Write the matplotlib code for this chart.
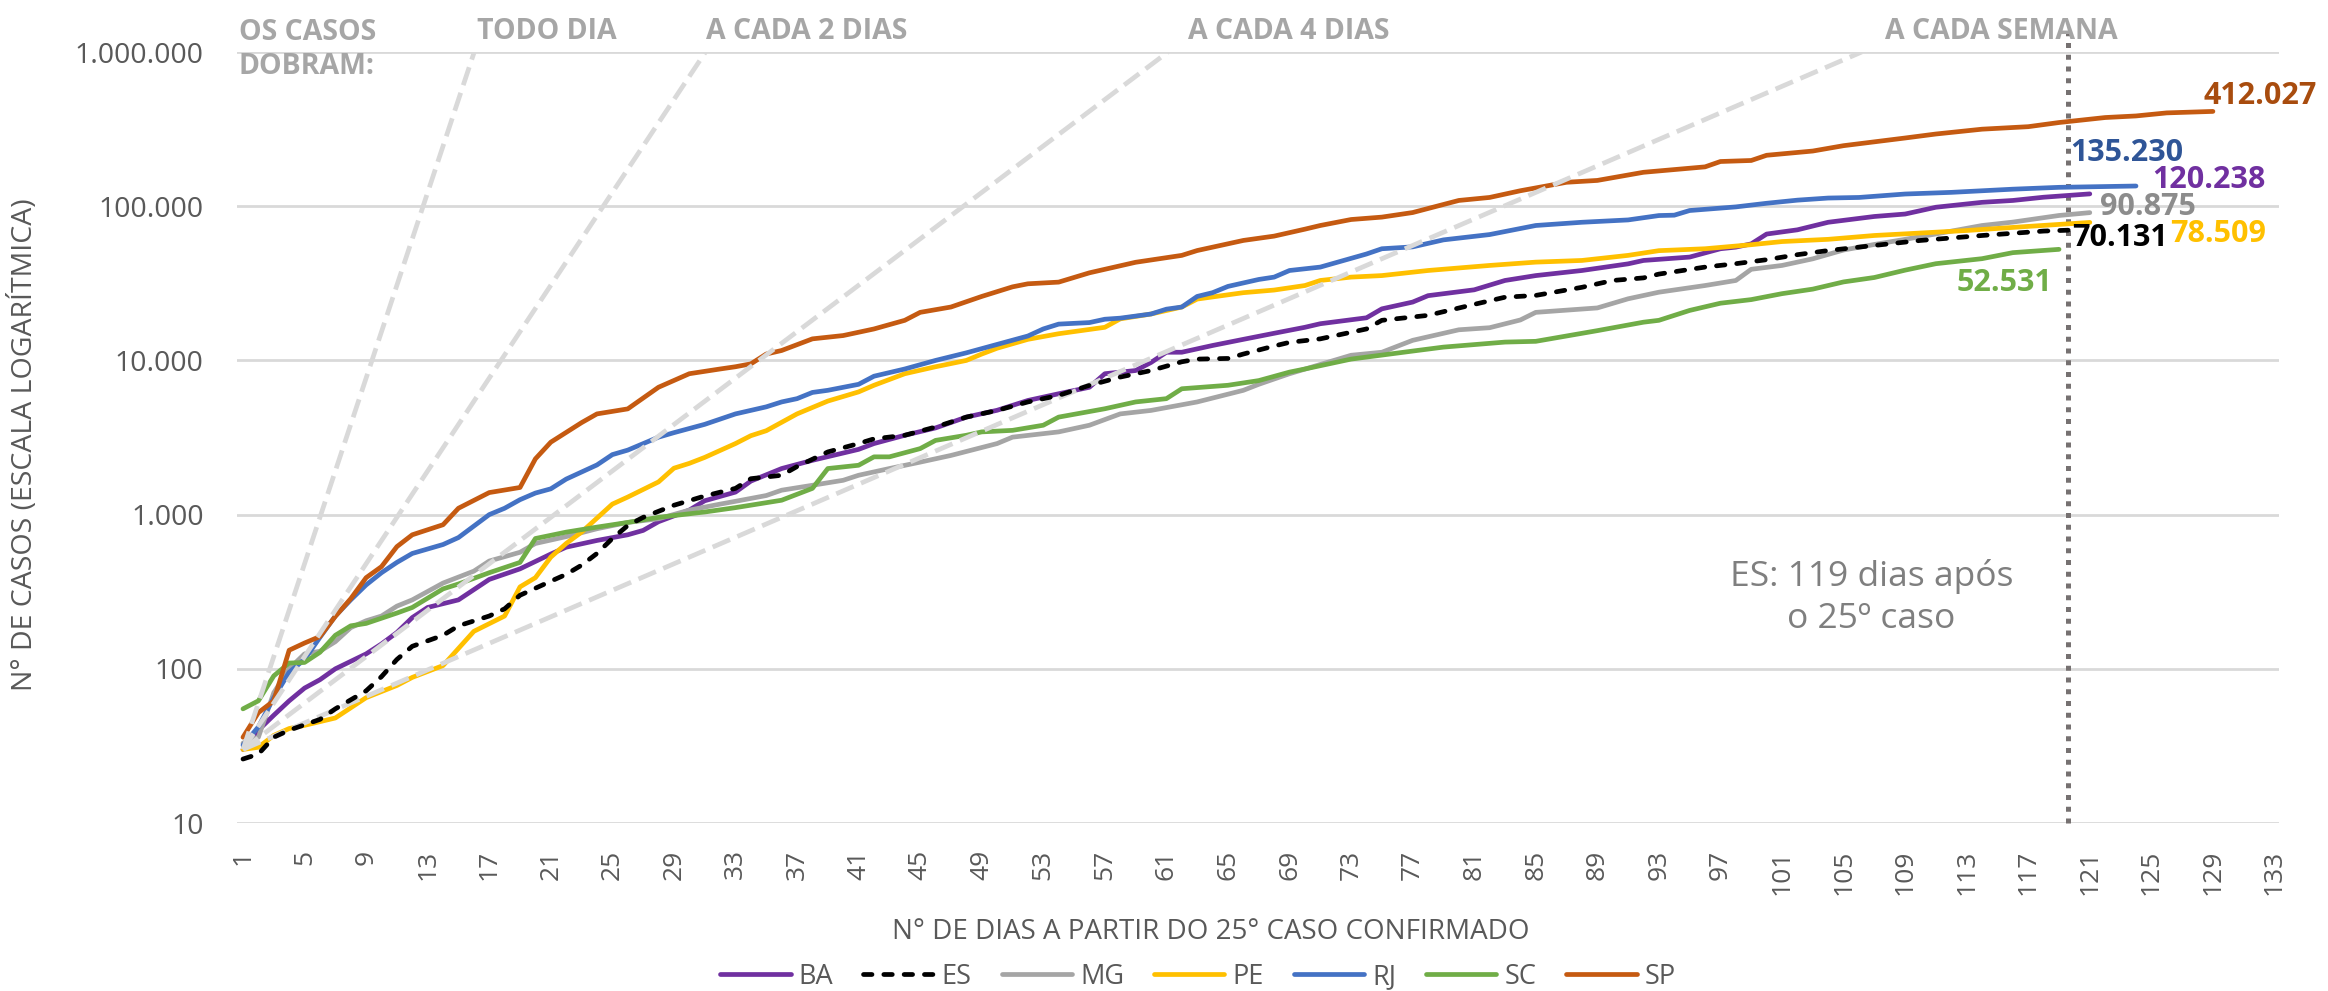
import matplotlib.pyplot as plt
import numpy as np
from matplotlib.ticker import FixedLocator, FuncFormatter

# cumulative cases by day since the 25th confirmed case
ba_days = [1, 2, 3, 4, 5, 6, 7, 9, 10, 11, 12, 13, 15, 17, 19, 21, 22, 24, 26, 27, 28, 30, 31, 33, 34, 36, 38, 41, 42, 44, 46, 48, 50, 52, 54, 56, 57, 59, 60, 61, 62, 64, 66, 68, 70, 71, 74, 75, 77, 78, 81, 83, 85, 88, 91, 92, 95, 97, 98, 99, 100, 102, 104, 107, 109, 111, 114, 116, 118, 121]
ba_cases = [30, 40, 50, 62, 75, 85, 100, 125, 145, 172, 215, 250, 280, 380, 445, 555, 615, 680, 740, 790, 900, 1070, 1230, 1400, 1650, 1990, 2250, 2650, 2890, 3270, 3650, 4290, 4750, 5500, 6080, 6700, 8200, 8600, 9700, 11300, 11300, 12500, 13700, 15000, 16400, 17300, 18900, 21600, 23900, 26300, 28700, 33000, 35500, 38300, 42300, 44500, 46800, 53000, 54300, 57000, 66000, 70300, 78700, 85800, 89000, 98500, 106000, 109000, 114400, 120238]

es_days = [1, 2, 3, 4, 6, 7, 9, 10, 11, 12, 14, 15, 17, 18, 19, 21, 22, 23, 24, 25, 26, 27, 29, 31, 33, 34, 36, 37, 39, 41, 42, 44, 46, 48, 50, 52, 54, 56, 58, 60, 62, 63, 65, 66, 68, 69, 71, 74, 75, 78, 81, 83, 85, 88, 90, 92, 93, 96, 98, 100, 102, 104, 106, 110, 114, 118, 120]
es_cases = [26, 28, 36, 40, 47, 55, 72, 89, 115, 140, 165, 190, 220, 245, 300, 370, 410, 470, 560, 700, 850, 960, 1150, 1320, 1480, 1710, 1800, 2050, 2550, 2890, 3100, 3270, 3700, 4290, 4740, 5380, 5930, 6890, 7800, 8600, 9800, 10200, 10300, 11000, 12400, 13100, 13800, 16000, 18200, 19600, 23100, 25700, 26400, 29800, 33000, 34300, 36300, 40300, 42400, 45000, 48500, 51600, 54300, 60000, 64600, 69000, 70131]

mg_days = [1, 2, 3, 4, 5, 6, 7, 8, 9, 10, 11, 12, 14, 16, 17, 19, 20, 22, 24, 26, 28, 30, 32, 33, 35, 36, 38, 40, 41, 43, 45, 47, 50, 51, 54, 56, 58, 60, 63, 66, 67, 69, 73, 75, 77, 80, 82, 84, 85, 89, 91, 93, 96, 98, 99, 101, 103, 105, 107, 109, 111, 114, 116, 119, 121]
mg_cases = [33, 36, 70, 100, 125, 130, 150, 185, 205, 220, 255, 280, 360, 430, 500, 570, 650, 720, 810, 890, 940, 1070, 1170, 1220, 1330, 1440, 1550, 1670, 1800, 1990, 2190, 2420, 2890, 3180, 3440, 3800, 4500, 4740, 5380, 6400, 7000, 8200, 10800, 11300, 13500, 15800, 16300, 18300, 20500, 21900, 25100, 27700, 30600, 33000, 39000, 41300, 45600, 52000, 56500, 61000, 66100, 75000, 78900, 87100, 90875]

pe_days = [1, 2, 3, 4, 5, 7, 9, 11, 12, 14, 16, 18, 19, 20, 21, 22, 23, 25, 26, 28, 29, 30, 31, 33, 34, 35, 37, 39, 41, 42, 44, 46, 48, 49, 50, 52, 54, 57, 58, 60, 62, 63, 66, 68, 70, 71, 73, 75, 78, 82, 85, 88, 91, 93, 96, 99, 101, 104, 107, 109, 113, 117, 121]
pe_cases = [30, 31, 37, 41, 43, 48, 65, 78, 88, 105, 175, 220, 340, 390, 530, 650, 770, 1170, 1300, 1630, 2000, 2150, 2350, 2890, 3250, 3500, 4500, 5450, 6250, 6900, 8200, 9100, 10000, 11000, 12000, 13700, 14900, 16400, 18600, 20000, 22200, 25000, 27500, 28600, 30600, 33000, 34700, 35500, 38300, 41300, 43400, 44500, 48000, 51500, 53000, 56300, 59000, 61000, 64600, 66200, 69600, 74000, 78509]

rj_days = [1, 2, 3, 4, 5, 6, 7, 8, 9, 10, 11, 12, 14, 15, 17, 18, 19, 20, 21, 22, 24, 25, 26, 28, 29, 31, 33, 35, 36, 37, 38, 39, 41, 42, 44, 46, 48, 50, 52, 53, 54, 56, 57, 58, 60, 61, 62, 63, 64, 65, 67, 68, 69, 71, 74, 75, 77, 79, 82, 85, 88, 91, 93, 94, 95, 98, 100, 102, 104, 106, 109, 112, 116, 119, 124]
rj_cases = [32, 42, 65, 95, 115, 160, 220, 280, 350, 420, 490, 560, 640, 710, 1000, 1100, 1250, 1380, 1470, 1700, 2100, 2450, 2620, 3180, 3400, 3850, 4500, 5000, 5380, 5650, 6200, 6400, 7000, 7900, 8800, 10000, 11200, 12700, 14400, 16000, 17200, 17600, 18500, 18800, 20000, 21500, 22200, 26000, 27500, 30200, 33500, 34700, 38300, 40300, 49000, 53000, 54500, 60500, 65500, 75000, 78700, 81500, 87000, 87500, 93800, 99000, 104500, 109500, 113000, 114000, 120000, 123000, 129000, 132600, 135230]

sc_days = [1, 2, 3, 4, 5, 6, 7, 8, 9, 11, 12, 14, 15, 17, 19, 20, 22, 24, 26, 28, 31, 33, 36, 38, 39, 41, 42, 43, 45, 46, 48, 49, 51, 53, 54, 57, 59, 61, 62, 65, 67, 69, 70, 73, 77, 79, 83, 85, 89, 92, 93, 95, 97, 99, 101, 103, 105, 107, 109, 111, 114, 116, 119]
sc_cases = [55, 62, 90, 109, 110, 128, 165, 190, 197, 230, 250, 330, 355, 420, 490, 700, 770, 830, 890, 960, 1040, 1110, 1240, 1480, 1990, 2090, 2370, 2370, 2680, 3030, 3270, 3440, 3520, 3800, 4290, 4860, 5380, 5650, 6550, 6900, 7400, 8400, 8800, 10200, 11500, 12200, 13150, 13300, 15600, 17700, 18200, 21100, 23500, 24800, 27100, 29000, 32300, 34500, 38500, 42400, 45700, 50000, 52531]

sp_days = [1, 2, 3, 4, 5, 6, 7, 8, 9, 10, 11, 12, 14, 15, 17, 19, 20, 21, 23, 24, 26, 28, 30, 32, 33, 34, 35, 36, 38, 40, 42, 44, 45, 47, 49, 51, 52, 54, 56, 59, 62, 63, 66, 68, 70, 71, 73, 75, 77, 80, 82, 84, 87, 89, 92, 96, 97, 99, 100, 103, 105, 109, 111, 114, 117, 119, 122, 124, 126, 129]
sp_cases = [36, 52, 62, 132, 147, 162, 219, 285, 390, 460, 620, 740, 860, 1100, 1390, 1500, 2300, 2950, 3950, 4500, 4850, 6700, 8200, 8800, 9100, 9500, 11000, 11600, 13800, 14500, 16000, 18200, 20500, 22200, 26000, 30000, 31400, 32200, 37000, 43300, 48000, 51600, 60000, 64000, 71000, 75000, 82000, 85000, 91000, 109000, 114000, 126000, 143000, 147000, 166000, 180000, 195000, 198000, 214000, 228000, 247000, 277000, 294000, 316000, 328000, 349000, 376000, 385000, 403000, 412027]

# reference lines: cases doubling every N days, starting from ~30 cases on day 1
guide_periods = [1, 2, 4, 7]
guide_start = 30
guide_labels = ["TODO DIA", "A CADA 2 DIAS", "A CADA 4 DIAS", "A CADA SEMANA"]

x_ticks = list(range(1, 134, 4))
y_ticks = [10, 100, 1000, 10000, 100000, 1000000]

TEXT_GRAY = "#595959"
GRID_GRAY = "#D9D9D9"

series = [
    # name, days, cases, line colour, label colour, label offset (pt)
    ("BA", ba_days, ba_cases, "#7030A0", "#7030A0", (45, 10)),
    ("ES", es_days, es_cases, "black", "black", (-2, -6)),
    ("MG", mg_days, mg_cases, "#A5A5A5", "#8C8C8C", (7, 4)),
    ("PE", pe_days, pe_cases, "#FFC000", "#FFC000", (58, -8)),
    ("RJ", rj_days, rj_cases, "#4472C4", "#2F5597", (-47, 24)),
    ("SC", sc_days, sc_cases, "#70AD47", "#70AD47", (-74, -24)),
    ("SP", sp_days, sp_cases, "#C55A11", "#A84C0E", (-7, 11)),
]

plt.rcParams["font.family"] = ["Open Sans", "DejaVu Sans"]

fig = plt.figure(figsize=(23.28, 9.91), dpi=100)
ax = fig.add_axes([0.1018, 0.1695, 0.8772, 0.778])

handles = []
for name, days, cases, color, label_color, offset in series:
    if name == "ES":
        (line,) = ax.plot(days, cases, color=color, lw=3.4, linestyle=(0, (1.8, 2.5)),
                          dash_capstyle="round", zorder=5, label=name)
    else:
        (line,) = ax.plot(days, cases, color=color, lw=3.4, solid_capstyle="round",
                          zorder=3, label=name)
    handles.append(line)
    ax.annotate(f"{cases[-1]:,}".replace(",", "."), (days[-1], cases[-1]),
                xytext=offset, textcoords="offset points", ha="left", va="center",
                fontsize=22, fontweight="bold", color=label_color, zorder=6)

# doubling guides, clipped at the top of the axis
for period in guide_periods:
    end_day = 1 + period * np.log2(1e6 / guide_start)
    ax.plot([1, end_day], [guide_start, 1e6], color=GRID_GRAY, lw=3.4,
            linestyle=(0, (4.0, 1.7)), zorder=4)

ax.set_yscale("log")
ax.set_ylim(10, 1e6)
ax.set_xlim(0.61, 133.3)

ax.yaxis.set_major_locator(FixedLocator(y_ticks))
ax.yaxis.set_minor_locator(FixedLocator([]))
ax.yaxis.set_major_formatter(FuncFormatter(lambda v, _: f"{int(round(v)):,}".replace(",", ".")))
ax.set_xticks(x_ticks)
ax.set_xticklabels([str(t) for t in x_ticks], rotation=90)
ax.tick_params(axis="y", length=0, pad=24, labelsize=20.5, labelcolor=TEXT_GRAY)
ax.tick_params(axis="x", length=0, pad=19, labelsize=19, labelcolor=TEXT_GRAY)
ax.grid(axis="y", color=GRID_GRAY, lw=2)
ax.set_axisbelow(True)
for spine in ax.spines.values():
    spine.set_visible(False)

# marker for ES: 119 days after the 25th case
ax.axvline(119.6, ymin=0, ymax=1.031, color="#767171", lw=3.6,
           linestyle=(0, (1, 1.35)), clip_on=False, zorder=2)
ax.text(106.8, 290, "ES: 119 dias após\no 25º caso", ha="center", va="center",
        fontsize=25.5, color="#7F7F7F", linespacing=1.3)

# guide captions above the plot
xt = ax.get_xaxis_transform()
ann_style = dict(fontsize=20.5, fontweight="bold", color="#A6A6A6", va="center",
                 ha="left", transform=xt, clip_on=False)
ax.text(0.74, 1.003, "OS CASOS\nDOBRAM:", linespacing=1.25, **ann_style)
for label, x in zip(guide_labels, [16.2, 31.1, 62.4, 107.7]):
    ax.text(x, 1.026, label, **ann_style)

fig.text(0.0105, 0.551, "N° DE CASOS (ESCALA LOGARÍTMICA)", rotation=90,
         ha="center", va="center", fontsize=20.5, color=TEXT_GRAY)
fig.text(0.520, 0.0595, "N° DE DIAS A PARTIR DO 25° CASO CONFIRMADO",
         ha="center", va="center", fontsize=20, color=TEXT_GRAY)

fig.legend(handles=handles, loc="center", bbox_to_anchor=(0.5146, 0.0145), ncol=7,
           frameon=False, fontsize=19.5, handlelength=2.6, handletextpad=0.3,
           columnspacing=1.1, labelcolor=TEXT_GRAY)

fig.savefig("out.png", dpi=100)
